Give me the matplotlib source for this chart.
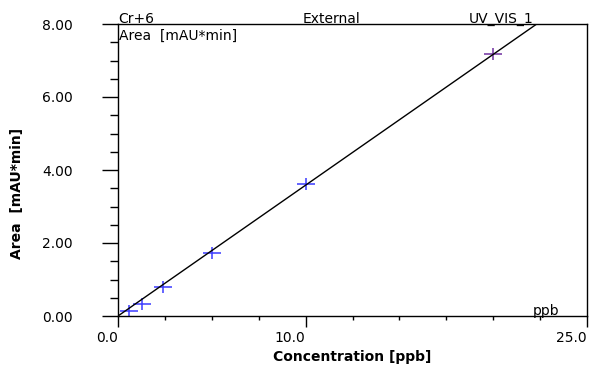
import matplotlib.pyplot as plt
import numpy as np
from matplotlib.ticker import FixedLocator, MultipleLocator, FormatStrFormatter

plt.rcParams['font.family'] = ['DejaVu Sans']

# calibration points (Cr+6, UV_VIS_1)
conc = [0.6, 1.3, 2.4, 5.0, 10.0, 20.0]
area = [0.145, 0.32, 0.80, 1.73, 3.62, 7.17]
point_colors = ['#3a3aff', '#3a3aff', '#3a3aff', '#3a3aff', '#3a3aff', '#7030a0']

# linear fit
fit_slope = 0.3584
fit_intercept = 0.0

W, H = 590, 365
fig = plt.figure(figsize=(W / 100, H / 100), dpi=100)
ax = fig.add_axes([118 / W, 1 - 316 / H, 469 / W, 292 / H])

ax.set_xlim(0, 25)
ax.set_ylim(0, 8)

fx = np.array([0, 25])
ax.plot(fx, fit_intercept + fit_slope * fx, color='black', lw=1.0, zorder=3)

for x, y, c in zip(conc, area, point_colors):
    ax.plot(x, y, marker='_', ms=13.5, mew=1.1, color=c, ls='none', zorder=2)
    ax.plot(x, y, marker='|', ms=8, mew=1.1, color=c, ls='none', zorder=2)

for s in ax.spines.values():
    s.set_linewidth(1.0)

ax.xaxis.set_major_locator(FixedLocator([0, 10, 25]))
ax.xaxis.set_minor_locator(MultipleLocator(2.5))
ax.xaxis.set_major_formatter(FormatStrFormatter('%.1f'))
ax.yaxis.set_major_locator(MultipleLocator(2))
ax.yaxis.set_minor_locator(MultipleLocator(0.5))
ax.yaxis.set_major_formatter(FormatStrFormatter('%.2f'))

ax.tick_params(axis='x', which='major', length=7.7, width=1.0, pad=3, labelsize=10)
ax.tick_params(axis='x', which='minor', length=2.9, width=1.0)
ax.tick_params(axis='y', which='major', length=11.5, width=1.0, pad=21, labelsize=10)
ax.tick_params(axis='y', which='minor', length=5.8, width=1.0)
for lab in ax.get_xticklabels():
    lab.set_horizontalalignment('right')

def ftext(px, py, s, **kw):
    fig.text(px / W, 1 - py / H, s, **kw)

ftext(118, 23, 'Cr+6', fontsize=10, va='baseline')
ftext(119, 39.5, 'Area  [mAU*min]', fontsize=10, va='baseline')
ftext(303, 23, 'External', fontsize=10, va='baseline')
ftext(469, 23, 'UV_VIS_1', fontsize=10, va='baseline')
ftext(533, 314.5, 'ppb', fontsize=10, va='baseline')

ftext(352, 361.5, 'Concentration [ppb]', fontsize=10, fontweight='bold', ha='center', va='baseline')
ftext(17, 193.5, 'Area  [mAU*min]', fontsize=10, fontweight='bold', ha='center', va='center', rotation=90)

fig.savefig('out.png', dpi=100)
